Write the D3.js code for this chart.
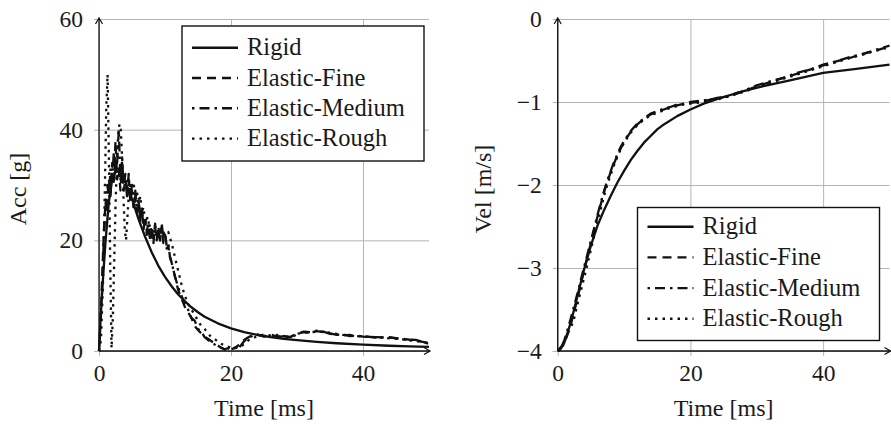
<!DOCTYPE html>
<html>
<head>
<meta charset="UTF-8">
</head>
<body style="margin:0">
<svg width="891" height="424"></svg>
<script src="https://cdnjs.cloudflare.com/ajax/libs/d3/7.8.5/d3.min.js"></script>
<script>
// ---- data ----
const seriesNames = ['Rigid', 'Elastic-Fine', 'Elastic-Medium', 'Elastic-Rough']
const xTicks = [0, 20, 40]
const accTicks = [0, 20, 40, 60]
const velTicks = [-4, -3, -2, -1, 0]

// acceleration [g]
const accTimeRigid = [0, 0.3, 0.6, 1, 1.5, 2, 2.5, 3, 3.5, 4, 5, 6, 7, 8, 9, 10, 11, 12, 13, 14, 15, 16, 18, 20, 22, 24, 26, 28, 30, 33, 36, 40, 44, 47, 50]
const accRigid = [0, 7, 13, 20, 27, 31, 32.3, 32.5, 31.8, 30.5, 27.5, 23.8, 20.6, 17.8, 15.4, 13.4, 11.7, 10.2, 9.0, 7.9, 7.0, 6.2, 5.0, 4.1, 3.4, 2.9, 2.5, 2.2, 1.95, 1.65, 1.4, 1.15, 0.95, 0.85, 0.75]

const accTimeElastic = [
  0, 0.25, 0.5, 0.75, 1, 1.25, 1.5, 1.75, 2, 2.25, 2.5, 2.75,
  3, 3.25, 3.5, 3.75, 4, 4.25, 4.5, 4.75, 5, 5.25, 5.5, 5.75,
  6, 6.25, 6.5, 6.75, 7, 7.25, 7.5, 7.75, 8, 8.25, 8.5, 8.75,
  9, 9.25, 9.5, 9.75, 10, 10.25, 10.5, 10.75, 11,
  11.5, 12, 12.5, 13, 13.5, 14, 14.5, 15, 15.5, 16, 16.5, 17, 17.5, 18, 18.5, 19, 19.5, 20, 20.5, 21, 21.5, 22, 22.5, 23,
  24, 25, 26, 27, 28, 29, 30, 31, 32, 33, 34, 35, 36, 37, 38, 39, 40,
  42, 44, 46, 48, 50]
const accFine = [
  0, 6, 14, 22, 27, 25, 31, 28, 34, 30, 38, 31,
  33, 29, 34, 30, 32, 28, 31, 27, 29, 26, 28, 25,
  27, 24, 25.5, 22.5, 23.5, 21, 22.5, 20, 21.5, 19.5, 22.5, 20,
  22, 20, 22.5, 19.5, 21, 18.5, 19, 17, 16,
  13.5, 11, 9.5, 8, 7, 6, 4.5, 3.8, 3.2, 2.6, 2.2, 1.8, 1.4, 1.0, 0.6, 0.3, 0.1, 0.3, 0.5, 0.9, 1.5, 2.0, 2.4, 2.7,
  2.9, 2.7, 3.0, 2.6, 2.8, 2.5, 3.2, 3.4, 3.3, 3.6, 3.4, 3.2, 2.9, 3.0, 2.7, 2.8, 2.6,
  2.5, 2.4, 2.2, 1.9, 1.4]
const accMedium = [
  0, 5, 12, 21, 26, 30, 28, 33, 31, 36, 32, 34,
  40, 31, 35, 29, 31, 28, 32, 27, 30, 26, 29, 25,
  27.5, 23.5, 25.5, 22, 24, 21.5, 23.5, 20.5, 22.5, 20, 23, 20,
  22.5, 20, 23, 20.5, 21.5, 19, 19.5, 17, 16,
  13.5, 11.5, 10, 8.5, 7.5, 6, 5.5, 4, 3.5, 2.5, 2, 1.5, 1.2, 0.8, 0.6, 0.3, 0.5, 0.2, 0.6, 0.3, 1.0, 1.8, 2.2, 2.6,
  3.0, 2.6, 2.8, 2.5, 2.7, 2.4, 3.0, 3.5, 3.4, 3.7, 3.5, 3.1, 3.0, 2.8, 2.9, 2.6, 2.7,
  2.4, 2.5, 2.1, 2.0, 1.3]

const accTimeRough = [
  0, 0.3, 0.6, 0.9, 1.1, 1.3, 1.5, 1.7, 1.9,
  2.1, 2.3, 2.5, 2.7, 2.9, 3.1, 3.3, 3.5, 3.7, 3.9, 4.1, 4.3, 4.5,
  4.75, 5, 5.25, 5.5, 5.75, 6, 6.25, 6.5, 6.75, 7, 7.25, 7.5, 7.75,
  8, 8.5, 9, 9.5, 10, 10.5, 11, 11.5, 12, 12.5, 13, 13.5, 14, 14.5, 15, 15.5, 16, 16.5, 17, 17.5, 18, 18.5, 19, 19.5, 20, 20.5, 21, 21.5, 22, 22.5, 23,
  24, 25, 26, 27, 28, 29, 30, 31, 32, 33, 34, 35, 36, 37, 38, 39, 40,
  42, 44, 46, 48, 50]
const accRough = [
  0, 2, 12, 30, 44, 50, 35, 16, 0.5,
  6, 16, 26, 34, 39, 41, 40, 35, 28, 22, 20, 24, 28,
  30, 28, 30.5, 27, 29, 26, 28, 25, 26, 23, 24.5, 22, 23,
  20.5, 22, 21.5, 22, 21, 21.5, 19.5, 17, 14.5, 12, 10, 8.5, 7.5, 6.5, 5.5, 4.5, 4, 3.2, 2.5, 2.2, 1.7, 1.3, 1.0, 0.8, 0.6, 0.7, 0.5, 0.8, 1.3, 1.8, 2.3,
  2.6, 3.0, 2.8, 2.9, 2.7, 2.6, 3.1, 3.3, 3.4, 3.5, 3.5, 3.3, 3.1, 2.9, 2.8, 2.7, 2.6,
  2.5, 2.3, 2.1, 1.8, 1.4]

// velocity [m/s]
const velTimeRigid = [0, 1, 2, 3, 4, 5, 6, 7, 8, 9, 10, 11, 12, 13, 14, 15, 16, 18, 20, 22, 25, 28, 31, 35, 40, 45, 50]
const velRigid = [-4, -3.9, -3.65, -3.33, -3.01, -2.73, -2.49, -2.3, -2.13, -1.97, -1.83, -1.7, -1.59, -1.49, -1.41, -1.33, -1.27, -1.17, -1.09, -1.02, -0.94, -0.87, -0.81, -0.74, -0.65, -0.6, -0.55]

const velTimeElastic = [
  0, 0.5, 1, 1.5, 2, 2.5, 3, 3.5, 4, 4.5, 5, 5.5, 6, 6.5, 7, 7.5, 8, 8.5, 9, 9.5, 10,
  11, 12, 13, 14, 15, 16, 17, 18, 19, 20, 21, 22, 23, 24, 25, 26, 27, 28, 29, 30,
  32, 34, 36, 38, 40, 42, 44, 46, 48, 50]
const velFine = [
  -4, -3.97, -3.9, -3.8, -3.67, -3.52, -3.36, -3.19, -3.02, -2.86, -2.7, -2.54, -2.38, -2.23, -2.08, -1.96, -1.84, -1.74, -1.64, -1.56, -1.48,
  -1.36, -1.27, -1.2, -1.15, -1.12, -1.09, -1.06, -1.04, -1.02, -1.01, -1.0, -0.99, -0.97, -0.96, -0.94, -0.92, -0.9, -0.87, -0.84, -0.81,
  -0.76, -0.71, -0.66, -0.61, -0.56, -0.51, -0.47, -0.42, -0.38, -0.33]
const velMedium = [
  -4, -3.96, -3.87, -3.74, -3.6, -3.45, -3.3, -3.14, -2.98, -2.83, -2.67, -2.52, -2.36, -2.21, -2.07, -1.94, -1.83, -1.72, -1.63, -1.54, -1.47,
  -1.35, -1.26, -1.2, -1.14, -1.11, -1.08, -1.06, -1.03, -1.02, -1.0, -0.99, -0.98, -0.97, -0.95, -0.94, -0.92, -0.89, -0.87, -0.83, -0.8,
  -0.75, -0.71, -0.65, -0.61, -0.55, -0.51, -0.46, -0.42, -0.37, -0.32]
const velRough = [
  -4, -3.99, -3.9, -3.78, -3.72, -3.6, -3.43, -3.27, -3.11, -2.95, -2.78, -2.61, -2.45, -2.29, -2.13, -1.99, -1.87, -1.76, -1.66, -1.57, -1.49,
  -1.37, -1.28, -1.21, -1.16, -1.13, -1.1, -1.07, -1.05, -1.03, -1.02, -1.01, -1.0, -0.98, -0.97, -0.95, -0.93, -0.9, -0.88, -0.85, -0.82,
  -0.77, -0.72, -0.67, -0.62, -0.57, -0.52, -0.47, -0.43, -0.38, -0.34]

// ---- drawing ----
const svg = d3.select('svg')
const dashes = { 'Rigid': null, 'Elastic-Fine': '9,6', 'Elastic-Medium': '2.5,5,10,5', 'Elastic-Rough': '2.5,5' }
const minus = d => String(d).replace('-', '\u2212')

// every label goes through here so it gets the serif face
function label(sel, size) {
  return sel.attr('font-family', '"Liberation Serif"').style('font-family', 'Liberation Serif')
    .attr('font-size', size).style('font-size', size + 'px').attr('fill', '#1a1a1a')
}

function panel(o) {
  const x = d3.scaleLinear().domain([0, 50]).range([o.left, o.right])
  const y = d3.scaleLinear().domain(o.yDomain).range([351, 19])
  const w = o.right - o.left, h = 351 - 19

  const g = svg.append('g')

  // grid + tick labels from d3 axes
  const ay = g.append('g').attr('transform', `translate(${o.left},0)`)
    .call(d3.axisLeft(y).tickValues(o.yTicks).tickSize(-w).tickPadding(16).tickFormat(minus))
  ay.select('.domain').remove()
  ay.selectAll('line').attr('x1', -5).attr('stroke', '#b5b5b5')
  label(ay.selectAll('text'), 23.5)

  const ax = g.append('g').attr('transform', `translate(0,351)`)
    .call(d3.axisBottom(x).tickValues(xTicks).tickSize(-h).tickPadding(13))
  ax.select('.domain').remove()
  ax.selectAll('line').attr('y1', 5).attr('stroke', '#b5b5b5')
  label(ax.selectAll('text'), 23.5)

  // axis lines with arrow tips
  g.append('line').attr('x1', o.left).attr('x2', o.left).attr('y1', 351).attr('y2', 18)
    .attr('stroke', '#111').attr('stroke-width', 1.3)
  g.append('line').attr('x1', o.left).attr('x2', o.right + 1).attr('y1', 351).attr('y2', 351)
    .attr('stroke', '#111').attr('stroke-width', 1.3)
  g.append('path').attr('d', `M${o.left - 3.5},${24} L${o.left},${18} L${o.left + 3.5},${24}`)
    .attr('fill', 'none').attr('stroke', '#111').attr('stroke-width', 1.2)
  g.append('path').attr('d', `M${o.right - 5},${347.5} L${o.right + 1},${351} L${o.right - 5},${354.5}`)
    .attr('fill', 'none').attr('stroke', '#111').attr('stroke-width', 1.2)

  // curves
  const line = d3.line().x(d => x(d[0])).y(d => y(d[1]))
  o.series.slice().reverse().forEach(s => {
    g.append('path').datum(d3.zip(s.t, s.v))
      .attr('d', line)
      .attr('fill', 'none').attr('stroke', '#111').attr('stroke-width', 2.3)
      .attr('stroke-linejoin', 'round')
      .attr('stroke-dasharray', dashes[s.name])
  })

  // legend
  const L = o.legend
  g.append('rect').attr('x', L.x).attr('y', L.y).attr('width', 242).attr('height', L.h)
    .attr('fill', '#fff').attr('stroke', '#111').attr('stroke-width', 1.4)
  seriesNames.forEach((n, i) => {
    const cy = L.row0 + i * L.step
    g.append('line').attr('x1', L.x + 10).attr('x2', L.x + 56).attr('y1', cy).attr('y2', cy)
      .attr('stroke', '#111').attr('stroke-width', 2.4).attr('stroke-dasharray', dashes[n])
    label(g.append('text').attr('x', L.x + 65).attr('y', cy + 7.5), 24.5).text(n)
  })

  // axis titles
  label(g.append('text').attr('x', (o.left + o.right) / 2).attr('y', 416).attr('text-anchor', 'middle'), 24)
    .text('Time [ms]')
  label(g.append('text').attr('transform', `translate(${o.ylabX},189) rotate(-90)`).attr('text-anchor', 'middle'), 24)
    .text(o.ylabel)
}

panel({
  left: 99, right: 429, yDomain: [0, 60], yTicks: accTicks, ylabel: 'Acc [g]', ylabX: 26,
  legend: { x: 182, y: 26, h: 135, row0: 47.7, step: 30.3 },
  series: [
    { name: 'Rigid', t: accTimeRigid, v: accRigid },
    { name: 'Elastic-Fine', t: accTimeElastic, v: accFine },
    { name: 'Elastic-Medium', t: accTimeElastic, v: accMedium },
    { name: 'Elastic-Rough', t: accTimeRough, v: accRough }
  ]
})

panel({
  left: 557.7, right: 889.5, yDomain: [-4, 0], yTicks: velTicks, ylabel: 'Vel [m/s]', ylabX: 491,
  legend: { x: 637.5, y: 207.5, h: 133, row0: 226.7, step: 30.7 },
  series: [
    { name: 'Rigid', t: velTimeRigid, v: velRigid },
    { name: 'Elastic-Fine', t: velTimeElastic, v: velFine },
    { name: 'Elastic-Medium', t: velTimeElastic, v: velMedium },
    { name: 'Elastic-Rough', t: velTimeElastic, v: velRough }
  ]
})
</script>
</body>
</html>
